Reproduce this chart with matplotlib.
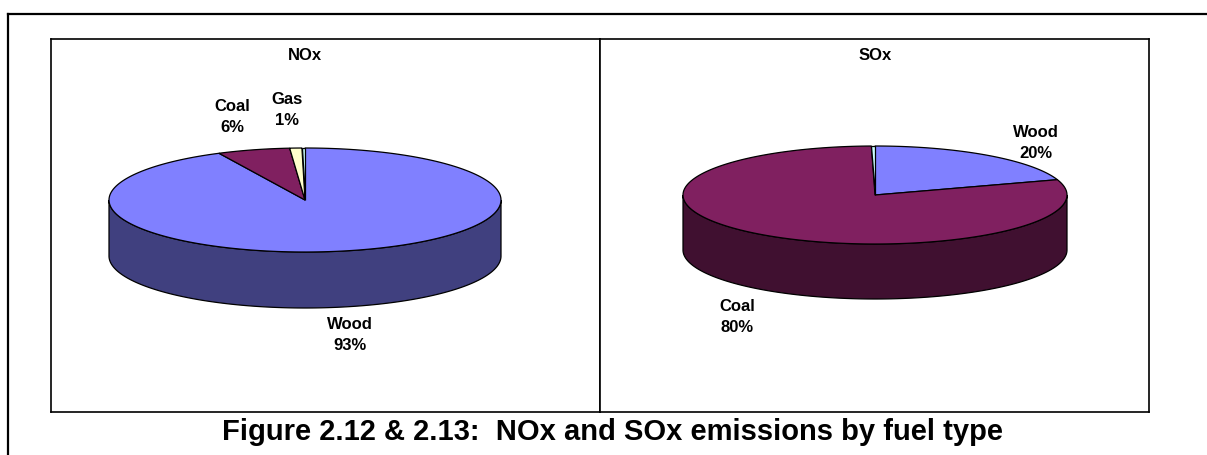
import numpy as np
import matplotlib
matplotlib.use("Agg")
import matplotlib.pyplot as plt
from matplotlib.patches import Polygon

plt.rcParams["font.family"] = ["Liberation Sans", "DejaVu Sans"]

# ---------------- data ----------------
fuels = ["Wood", "Coal", "Gas", "Other"]
nox_values = [93.0, 6.0, 1.0, 0.25]
sox_values = [20.0, 80.0, 0.0, 0.3]
shown = [True, True, True, False]          # which slices carry a label
sox_shown = [True, True, False, False]

top_colors = ["#8080FF", "#802060", "#FFFFCC", "#CCFFFF"]
side_colors = ["#40407F", "#401030", "#80805F", "#668080"]

caption = "Figure 2.12 & 2.13:  NOx and SOx emissions by fuel type"

W, H = 1207, 455
fig = plt.figure(figsize=(W / 100, H / 100), dpi=100)

# background axes in pixel units for the frame and the caption
bg = fig.add_axes([0, 0, 1, 1])
bg.set_xlim(0, W)
bg.set_ylim(H, 0)
bg.axis("off")
bg.plot([8, W], [14, 14], color="black", lw=1.6)
bg.plot([8, 8], [14, H], color="black", lw=1.6)
bg.text(612, 432, caption, ha="center", va="center", fontsize=21,
        fontweight="bold")


def arc(cx, cy, rx, ry, a0, a1, n=200):
    t = np.radians(np.linspace(a0, a1, n))
    return np.column_stack([cx + rx * np.cos(t), cy - ry * np.sin(t)])


def pie3d(ax, values, cx, cy, rx, ry, depth):
    total = float(sum(values))
    start = 90.0
    spans = []
    for v in values:
        end = start - v / total * 360.0
        spans.append((end, start))
        start = end
    # side walls (front half only: math angle in [-180, 0] + 360k)
    for (lo, hi), sc in zip(spans, side_colors):
        if hi - lo <= 0:
            continue
        for k in range(-2, 3):
            a = max(lo, -180 + 360 * k)
            b = min(hi, 0 + 360 * k)
            if b <= a:
                continue
            top = arc(cx, cy, rx, ry, a, b)
            bot = top[::-1] + [0, depth]
            ax.add_patch(Polygon(np.vstack([top, bot]), closed=True,
                                 facecolor=sc, edgecolor="black", lw=0.9))
    # top face
    for (lo, hi), tc in zip(spans, top_colors):
        if hi - lo <= 0:
            continue
        pts = np.vstack([[cx, cy], arc(cx, cy, rx, ry, lo, hi)])
        ax.add_patch(Polygon(pts, closed=True, facecolor=tc,
                             edgecolor="black", lw=0.9))
    return [v / total * 100 for v in values]


def panel(rect_px, title, values, cx, cy, rx, ry, depth, label_pos, show):
    x0, y0, x1, y1 = rect_px
    ax = fig.add_axes([x0 / W, 1 - y1 / H, (x1 - x0) / W, (y1 - y0) / H])
    ax.set_xlim(0, x1 - x0)
    ax.set_ylim(y1 - y0, 0)
    ax.set_xticks([])
    ax.set_yticks([])
    for s in ax.spines.values():
        s.set_color("black")
        s.set_linewidth(1.2)
    ax.text(cx, 16, title, ha="center", va="center", fontsize=12,
            fontweight="bold")
    pct = pie3d(ax, values, cx, cy, rx, ry, depth)
    for name, p, pos, ok in zip(fuels, pct, label_pos, show):
        if ok:
            ax.text(pos[0], pos[1], f"{name}\n{p:.0f}%", ha="center",
                    va="center", fontsize=12, fontweight="bold",
                    linespacing=1.45)
    return ax


# label positions (panel pixel coords) in fuel order
nox_labels = [(299, 296), (181, 78), (236, 71), (0, 0)]
sox_labels = [(436, 104), (137, 278), (0, 0), (0, 0)]

panel((51, 39, 600, 412), "NOx", nox_values, 254, 161, 196, 52, 56,
      nox_labels, shown)
panel((600, 39, 1149, 412), "SOx", sox_values, 275, 156, 192, 49, 55,
      sox_labels, sox_shown)

fig.savefig("out.png", dpi=100)
